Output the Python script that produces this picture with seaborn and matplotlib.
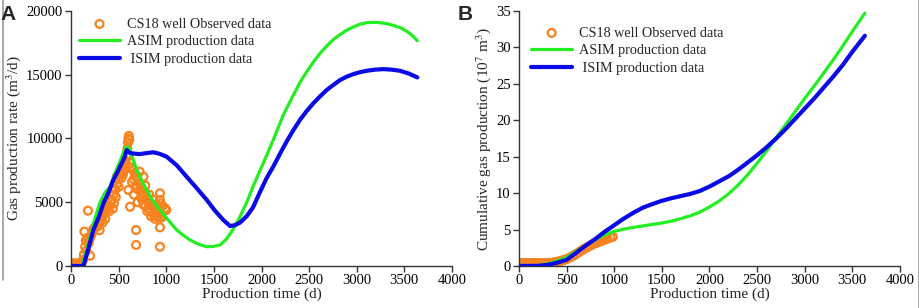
import numpy as np
import pandas as pd
import seaborn as sns
import matplotlib.pyplot as plt
from matplotlib.lines import Line2D

# ---- Panel A: gas production rate (m3/d) ----
obs_day_a = [0, 20, 40, 60, 80, 100, 115, 126, 135, 140, 148, 155, 162, 170, 178, 185, 195, 200,
             210, 220, 235, 250, 265, 280, 295, 310, 325, 340, 355, 370, 385, 400, 415, 430, 438,
             450, 465, 480, 495, 510, 525, 540, 555, 565, 575, 585, 592, 598, 603, 608, 612,
             602, 620, 683, 683, 625, 640, 655, 670, 685, 700, 715, 730, 745, 760, 775, 790,
             805, 820, 835, 850, 865, 880, 895, 910, 925, 660, 690, 720, 750, 780, 810, 840,
             870, 900, 930, 950, 934, 934, 934, 934, 940, 960, 987, 1000, 480, 520, 545,
             300, 330, 360, 400, 450, 470, 500, 530, 550, 570, 640, 660, 680, 700, 720, 740,
             760, 760, 780, 800, 820, 840, 860, 880, 900, 910]
obs_rate_a = [200, 200, 200, 200, 200, 200, 300, 470, 900, 2700, 1500, 2000, 1200, 2200, 4340, 1800, 2100, 800,
              2400, 2600, 2900, 3000, 3200, 3100, 3300, 3600, 3800, 4000, 4200, 4400, 4600, 4700, 5000, 5200, 4500,
              5600, 6000, 6400, 6800, 7300, 7700, 7900, 8000, 8300, 8100, 8700, 9200, 9700, 10000, 10200, 9900,
              5960, 4650, 2820, 1650, 8080, 7700, 7500, 7300, 7000, 6800, 6500, 6200, 6000, 5700, 5500, 5300,
              5100, 5000, 4800, 4700, 4600, 4500, 4400, 4300, 4200, 6800, 6300, 5900, 5200, 4800, 4500, 4300,
              4000, 3900, 3800, 3800, 5700, 5180, 3030, 1510, 4900, 4700, 4520, 4400, 7000, 7600, 7200,
              2800, 3400, 3700, 4300, 4900, 5400, 6200, 6900, 7400, 7600, 6600, 5600, 6100, 5000, 7400, 5300,
              4800, 7000, 6300, 4300, 5600, 3900, 5200, 3700, 4800, 3900]

asim_day_a = [0, 112, 150, 200, 250, 305, 360, 409, 462, 520, 567, 602, 640, 690, 740, 795, 860, 934,
              1020, 1110, 1180, 1250, 1340, 1425, 1500, 1565, 1630, 1700, 1770, 1845, 1915, 1985, 2055,
              2124, 2229, 2334, 2404, 2474, 2544, 2614, 2684, 2754, 2824, 2894, 2964, 3034, 3104, 3174,
              3244, 3314, 3384, 3454, 3510, 3559, 3600, 3636]
asim_rate_a = [0, 0, 900, 2300, 3700, 5000, 5800, 6200, 7300, 8300, 9250, 9360, 8600, 7530, 6700, 5960, 5100,
               4390, 3600, 2820, 2400, 2040, 1700, 1510, 1540, 1650, 2100, 2850, 3800, 5000, 6300, 7500, 8700,
               9900, 11850, 13400, 14400, 15230, 16000, 16670, 17250, 17760, 18150, 18490, 18750, 18960, 19080,
               19110, 19080, 19010, 18870, 18700, 18480, 18230, 17950, 17660]

isim_day_a = [0, 130, 180, 234, 290, 340, 390, 444, 490, 532, 560, 585, 610, 637, 680, 724, 790, 864,
              930, 1004, 1110, 1214, 1320, 1425, 1510, 1599, 1669, 1720, 1774, 1844, 1911, 1984, 2054,
              2124, 2194, 2264, 2334, 2404, 2474, 2544, 2614, 2684, 2754, 2824, 2894, 2964, 3034, 3104,
              3190, 3279, 3366, 3454, 3545, 3636]
isim_rate_a = [0, 0, 1300, 2820, 3800, 4920, 5700, 6750, 7400, 8050, 8500, 9100, 8900, 8840, 8800, 8780, 8850,
               8920, 8800, 8570, 7900, 7000, 6100, 5180, 4350, 3610, 3140, 3200, 3400, 3900, 4600, 5800, 6900,
               7800, 8800, 9770, 10650, 11460, 12150, 12760, 13300, 13800, 14200, 14580, 14850, 15050, 15200,
               15310, 15400, 15440, 15400, 15310, 15100, 14790]

# ---- Panel B: cumulative gas production (10^7 m3) ----
obs_day_b = [0, 30, 60, 90, 120, 150, 180, 210, 240, 270, 300, 330, 360, 390, 420, 450, 480, 510,
             540, 570, 600, 630, 660, 690, 720, 750, 780, 810, 840, 870, 900, 930, 960, 985]
obs_cum_b = [0.4, 0.4, 0.4, 0.4, 0.4, 0.4, 0.4, 0.4, 0.4, 0.4, 0.4, 0.42, 0.48, 0.55, 0.65, 0.75, 0.85, 1.0,
             1.2, 1.4, 1.65, 1.9, 2.15, 2.4, 2.6, 2.8, 3.0, 3.15, 3.3, 3.45, 3.6, 3.75, 3.9, 4.0]

asim_day_b = [0, 200, 300, 400, 500, 600, 700, 800, 900, 1000, 1100, 1200, 1300, 1400, 1500, 1600, 1700,
              1800, 1900, 2000, 2100, 2200, 2300, 2400, 2500, 2600, 2700, 2800, 2900, 3000, 3100, 3200,
              3300, 3400, 3500, 3632]
asim_cum_b = [0, 0.05, 0.3, 0.7, 1.2, 2.0, 2.8, 3.6, 4.3, 4.75, 5.05, 5.3, 5.5, 5.7, 5.9, 6.15, 6.5,
              6.9, 7.4, 8.1, 8.9, 9.9, 11.1, 12.5, 14.1, 15.8, 17.6, 19.4, 21.2, 23.0, 24.7, 26.5,
              28.3, 30.2, 32.2, 34.7]

isim_day_b = [0, 200, 300, 400, 500, 600, 700, 800, 900, 1000, 1100, 1200, 1300, 1400, 1500, 1600, 1700,
              1800, 1900, 2000, 2100, 2200, 2300, 2400, 2500, 2600, 2700, 2800, 2900, 3000, 3100, 3200,
              3300, 3400, 3500, 3632]
isim_cum_b = [0, 0.02, 0.15, 0.45, 0.85, 1.8, 2.8, 3.7, 4.7, 5.6, 6.5, 7.3, 8.0, 8.5, 8.95, 9.3, 9.6,
              9.9, 10.3, 10.9, 11.6, 12.3, 13.2, 14.2, 15.2, 16.3, 17.5, 18.8, 20.2, 21.6, 23.0, 24.5,
              26.0, 27.6, 29.4, 31.6]

obs_color = '#f7821e'
asim_color = '#22ee22'
isim_color = '#0a0ae6'

sns.set_style('ticks')
plt.rcParams['font.family'] = ['Liberation Serif', 'DejaVu Serif']
plt.rcParams['mathtext.fontset'] = 'stix'

fig = plt.figure(figsize=(9.2, 3.08), dpi=100)
ax1 = fig.add_axes([0.0772, 0.1364, 0.4141, 0.8279])
ax2 = fig.add_axes([0.5641, 0.1364, 0.4141, 0.8279])


def draw(ax, od, ov, ad, av, idd, iv, anchor):
    sns.scatterplot(x=od, y=ov, ax=ax, marker='o', s=32, facecolor='none',
                    edgecolor=obs_color, linewidth=1.6, label='CS18 well Observed data', zorder=2)
    sns.lineplot(x=ad, y=av, ax=ax, color=asim_color, linewidth=2.3, label='ASIM production data',
                 sort=False, zorder=3)
    sns.lineplot(x=idd, y=iv, ax=ax, color=isim_color, linewidth=3.0, label=' ISIM production data',
                 sort=False, zorder=4)
    ax.set_xlim(0, 4000)
    ax.set_xticks(range(0, 4001, 500))
    ax.set_xlabel('Production time (d)', fontsize=11, labelpad=0)
    ax.tick_params(labelsize=10.5, length=4, width=1, colors='#333333', labelcolor='black', pad=2)
    for s in ['top', 'right']:
        ax.spines[s].set_visible(False)
    for s in ['left', 'bottom']:
        ax.spines[s].set_color('#333333')
        ax.spines[s].set_linewidth(1)
    ax.legend(loc='upper left', bbox_to_anchor=anchor, frameon=False, fontsize=10.2,
              handlelength=2.9, handletextpad=0.5, labelspacing=0.33, borderaxespad=0.0)


draw(ax1, obs_day_a, obs_rate_a, asim_day_a, asim_rate_a, isim_day_a, isim_rate_a, (0.006, 0.996))
ax1.set_ylim(0, 20000)
ax1.set_yticks(range(0, 20001, 5000))
ax1.set_ylabel('Gas production rate (m$^3$/d)', fontsize=11, labelpad=2)

draw(ax2, obs_day_b, obs_cum_b, asim_day_b, asim_cum_b, isim_day_b, isim_cum_b, (0.017, 0.961))
ax2.set_ylim(0, 35)
ax2.set_yticks(range(0, 36, 5))
ax2.set_ylabel('Cumulative gas production (10$^7$ m$^3$)', fontsize=11, labelpad=2)

fig.text(0.001, 0.985, 'A', fontsize=15, fontweight='bold', family='Liberation Sans', va='top')
fig.text(0.497, 0.985, 'B', fontsize=15, fontweight='bold', family='Liberation Sans', va='top')
fig.add_artist(Line2D([0.003, 0.003], [0.09, 1.0], color='#999999', linewidth=1.2))
fig.add_artist(Line2D([0.9985, 0.9985], [0.0, 1.0], color='#999999', linewidth=1.2))

fig.savefig('out.png', dpi=100)
